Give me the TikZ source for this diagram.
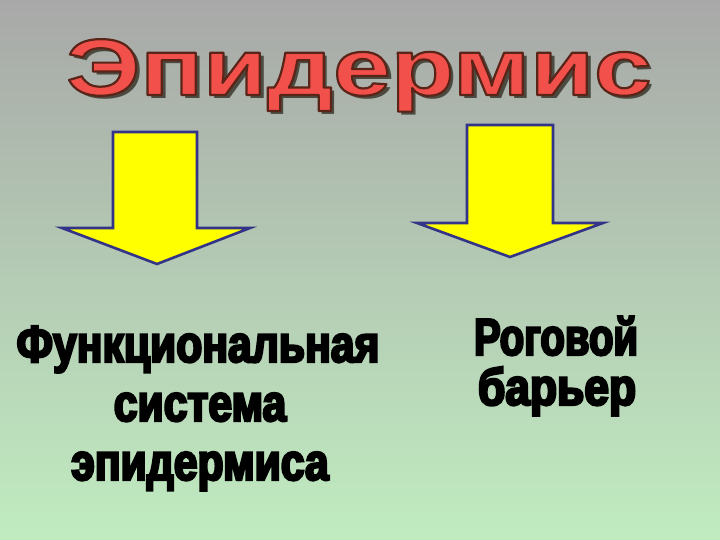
\documentclass[tikz,border=0pt]{standalone}
\usepackage{fontspec}
\newfontfamily\titlefont[FakeStretch=1.3]{Liberation Sans Bold}
\newfontfamily\impfont[FakeStretch=0.82,FakeBold=4.5]{Liberation Sans Bold}
\definecolor{bgtop}{HTML}{A8A8A8}
\definecolor{bgbot}{HTML}{C0ECC0}
\definecolor{titlered}{HTML}{F2504A}
\definecolor{titleshadow}{HTML}{4A4A40}
\definecolor{arrowfill}{HTML}{FFFF00}
\definecolor{arrowline}{HTML}{333388}
% title: one shadow copy, then the red face stroked with a dark outline
\newcommand\layeredtitle[1]{\leavevmode
  \rlap{\hspace{4pt}\raisebox{-4pt}{\color{titleshadow}#1}}%
  {\color{titlered}\special{pdf:literal direct 0.353 0.141 0.094 RG 2 Tr 2.2 w 1 j}#1\special{pdf:literal direct 0 Tr 0.4 w 0 j}}}
\begin{document}
\begin{tikzpicture}[x=1pt,y=-1pt,
  titletxt/.style={font=\titlefont\fontsize{80}{96}\selectfont, anchor=base, inner sep=0pt},
  bodytxt/.style={font=\impfont\fontsize{52}{60}\selectfont, anchor=base, inner sep=0pt, text=black},
  bigarrow/.style={fill=arrowfill, draw=arrowline, line width=2.6pt, line join=miter}]
\useasboundingbox (0,0) rectangle (720,540);
\shade[top color=bgtop, bottom color=bgbot] (0,0) rectangle (720,540);
% title
\node[titletxt] (title) at (359,95) {\layeredtitle{Эпидермис}};
% arrows
\draw[bigarrow] (113,132) -- (197,132) -- (197,228) -- (250,228) -- (157,264) -- (62,228) -- (113,228) -- cycle;
\draw[bigarrow] (467,125) -- (553,125) -- (553,223) -- (603,223) -- (510,257) -- (417,223) -- (467,223) -- cycle;
% left text
\node[bodytxt] (l1) at (198,362) {Функциональная};
\node[bodytxt] (l2) at (200,421) {система};
\node[bodytxt] (l3) at (200,480) {эпидермиса};
% right text
\node[bodytxt] (r1) at (556,355) {\scalebox{0.94}[1]{Роговой}};
\node[bodytxt] (r2) at (557,405) {\scalebox{1.04}[1]{барьер}};
\end{tikzpicture}
\end{document}
